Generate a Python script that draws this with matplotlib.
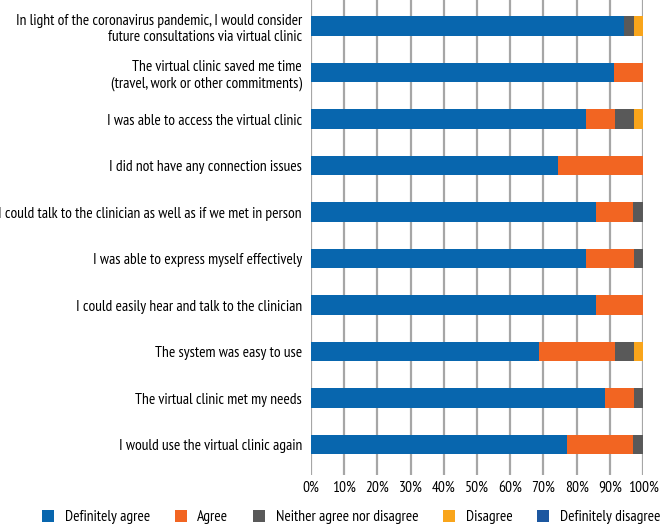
import matplotlib
matplotlib.use("Agg")
import matplotlib.pyplot as plt
from matplotlib.patches import Patch
import numpy as np

plt.rcParams['font.family'] = ['PT Sans Narrow', 'DejaVu Sans']

categories = [
    "In light of the coronavirus pandemic, I would consider\nfuture consultations via virtual clinic",
    "The virtual clinic saved me time\n(travel, work or other commitments)",
    "I was able to access the virtual clinic",
    "I did not have any connection issues",
    "I could talk to the clinician as well as if we met in person",
    "I was able to express myself effectively",
    "I could easily hear and talk to the clinician",
    "The system was easy to use",
    "The virtual clinic met my needs",
    "I would use the virtual clinic again",
]
series_names = ["Definitely agree", "Agree", "Neither agree nor disagree", "Disagree", "Definitely disagree"]
definitely_agree = [94.3, 91.4, 82.9, 74.3, 85.7, 82.9, 85.7, 68.6, 88.6, 77.1]
agree            = [0.0, 8.6, 8.6, 25.7, 11.4, 14.3, 14.3, 22.9, 8.6, 20.0]
neither          = [2.9, 0.0, 5.7, 0.0, 2.9, 2.8, 0.0, 5.7, 2.8, 2.9]
disagree         = [2.8, 0.0, 2.8, 0.0, 0.0, 0.0, 0.0, 2.8, 0.0, 0.0]
definitely_disagree = [0.0] * 10
colors = ["#0866AE", "#F26522", "#595959", "#F9A51B", "#1C57A0"]
xticks = list(range(0, 101, 10))
xticklabels = [f"{t}%" for t in xticks]

FS = 11.2
fig = plt.figure(figsize=(6.6, 5.26), dpi=100)
ax = fig.add_axes([311/660, 1 - 475/526, 332/660, 475/526])

y = np.arange(len(categories))
left = np.zeros(len(categories))
for vals, c, name in zip([definitely_agree, agree, neither, disagree, definitely_disagree], colors, series_names):
    vals = np.array(vals)
    ax.barh(y, vals, left=left, height=0.42, color=c, label=name, zorder=3)
    left += vals

ax.set_xlim(0, 100)
ax.set_ylim(len(categories) - 1 + 0.656, -0.56)
ax.set_yticks(y)
ax.set_yticklabels(categories, fontsize=FS, linespacing=1.2)
ax.tick_params(axis='y', length=0, pad=6.5)
ax.set_xticks(xticks)
ax.set_xticklabels(xticklabels, fontsize=FS)
ax.tick_params(axis='x', length=0, pad=4)
ax.grid(axis='x', color='#A6A6A6', linewidth=1.6, zorder=0)
for s in ax.spines.values():
    s.set_visible(False)

handles = [Patch(facecolor=c, edgecolor='none') for c in colors]
fig.legend(handles, series_names, loc='center left', bbox_to_anchor=(42/660, 1 - 517/526), ncol=5,
           frameon=False, fontsize=FS, handlelength=0.8, handleheight=0.8, borderpad=0,
           borderaxespad=0, columnspacing=1.6, handletextpad=0.65)

fig.savefig("out.png", dpi=100)
